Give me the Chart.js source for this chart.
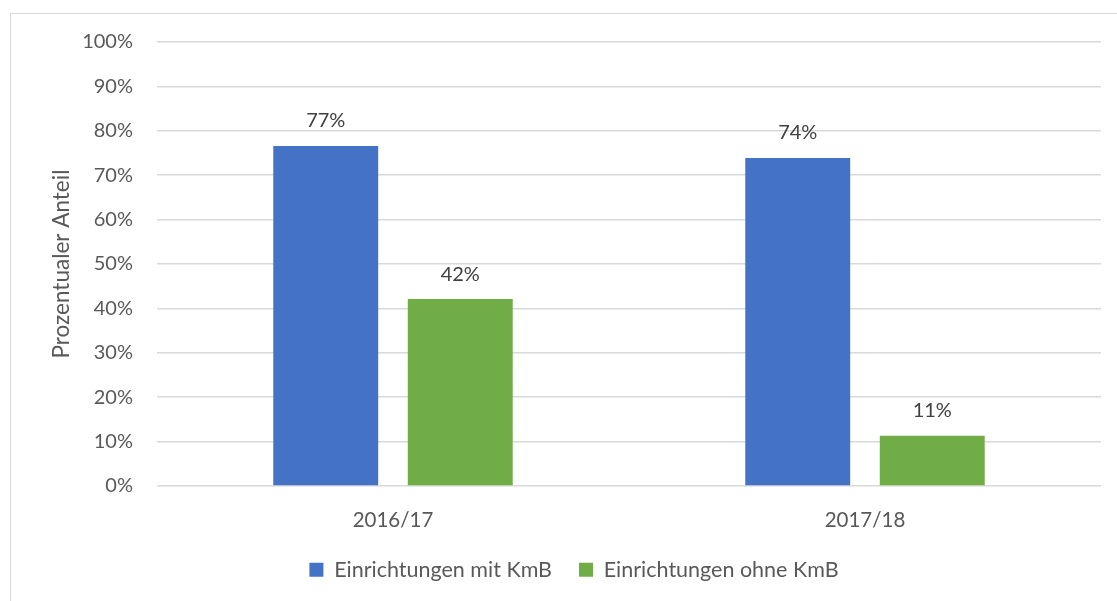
<!DOCTYPE html>
<html>
<head>
<meta charset="utf-8">
<script src="https://cdn.jsdelivr.net/npm/chart.js@4"></script>
<style>
  html, body { margin: 0; padding: 0; background: #fff; overflow: hidden; }
  #wrap { position: relative; width: 1117px; height: 601px; }
  #frame { position: absolute; left: 10px; top: 13px; width: 1200px; height: 700px;
           border-left: 1px solid #d9d9d9; border-top: 1px solid #d9d9d9; }
  #anteilChart { position: absolute; left: 0; top: 0; }
</style>
</head>
<body>
<div id="wrap">
  <div id="frame"></div>
  <canvas id="anteilChart" width="1117" height="601"></canvas>
</div>
<script>
const schuljahre = ['2016/17', '2017/18'];
const mitKmB = [76.6, 73.9];
const ohneKmB = [42.1, 11.3];
const yTicks = [0, 10, 20, 30, 40, 50, 60, 70, 80, 90, 100];

const textColor = '#595959';
const fontFamily = 'Lato, sans-serif';

// Prozentwerte über den Balken
const valueLabels = {
    id: 'valueLabels',
    afterDatasetsDraw(chart) {
        const ctx = chart.ctx;
        ctx.save();
        ctx.font = '20px ' + fontFamily;
        ctx.fillStyle = '#404040';
        ctx.textAlign = 'center';
        ctx.textBaseline = 'middle';
        chart.data.datasets.forEach((ds, i) => {
            chart.getDatasetMeta(i).data.forEach((bar, j) => {
                ctx.fillText(Math.round(ds.data[j]) + '%', bar.x, bar.y - 25);
            });
        });
        ctx.restore();
    }
};

const anteilCtx = document.getElementById('anteilChart');

new Chart(anteilCtx, {
    type: 'bar',
    data: {
        labels: schuljahre,
        datasets: [{
            label: 'Einrichtungen mit KmB',
            data: mitKmB,
            backgroundColor: '#4472C4',
            categoryPercentage: 0.57,
            barPercentage: 0.78
        }, {
            label: 'Einrichtungen ohne KmB',
            data: ohneKmB,
            backgroundColor: '#70AD47',
            categoryPercentage: 0.57,
            barPercentage: 0.78
        }]
    },
    options: {
        responsive: false,
        animation: false,
        layout: {
            padding: { left: 47, right: 16, top: 42, bottom: 10.5 }
        },
        plugins: {
            legend: {
                position: 'bottom',
                labels: {
                    boxWidth: 14,
                    boxHeight: 14,
                    padding: 27,
                    color: textColor,
                    font: { family: fontFamily, size: 21.5 }
                }
            },
            tooltip: { enabled: false }
        },
        scales: {
            x: {
                grid: { display: false, drawTicks: false },
                border: { display: false },
                ticks: {
                    color: textColor,
                    padding: 22,
                    font: { family: fontFamily, size: 20.5 }
                },
                afterFit(scale) {
                    scale.height = 46;
                }
            },
            y: {
                min: 0,
                max: 100,
                afterBuildTicks(scale) {
                    scale.ticks = yTicks.map(v => ({ value: v }));
                },
                grid: {
                    color: '#d9d9d9',
                    lineWidth: 1.5,
                    drawTicks: false
                },
                border: { display: false },
                ticks: {
                    color: textColor,
                    padding: 24,
                    font: { family: fontFamily, size: 20 },
                    callback: v => v + '%'
                },
                title: {
                    display: true,
                    text: 'Prozentualer Anteil',
                    color: textColor,
                    padding: { top: 1, bottom: 0 },
                    font: { family: fontFamily, size: 22.5 }
                },
                afterFit(scale) {
                    scale.width = 110;
                }
            }
        }
    },
    plugins: [valueLabels]
});
</script>
</body>
</html>
